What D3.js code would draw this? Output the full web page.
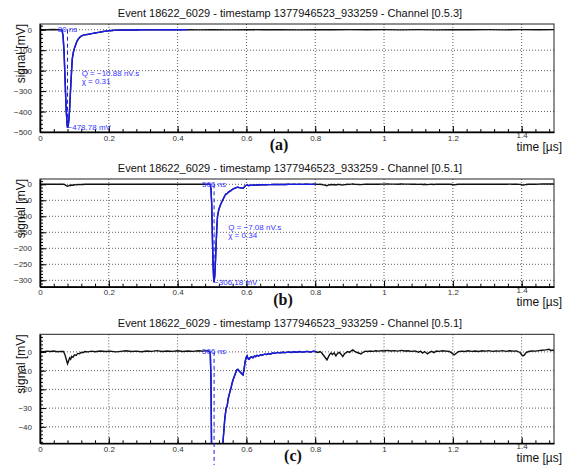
<!DOCTYPE html>
<html>
<head>
<meta charset="utf-8">
<script src="https://cdn.jsdelivr.net/npm/d3@7"></script>
<style>
  html, body { margin: 0; padding: 0; background: #fff; overflow: hidden; }
  svg { display: block; font-family: "Liberation Sans", Arial, sans-serif; }
</style>
</head>
<body>
<svg id="chart" width="563" height="465"></svg>
<script>
// ---- data (time in µs, signal in mV) ----
var eventTitle = "Event 18622_6029 - timestamp 1377946523_933259 - Channel ";
var channels = ["[0.5.3]", "[0.5.1]", "[0.5.1]"];
var panelLetters = ["(a)", "(b)", "(c)"];

var xTicks = [0, 0.2, 0.4, 0.6, 0.8, 1, 1.2, 1.4];
var yTicksA = [0, -100, -200, -300, -400, -500];
var yTicksB = [0, -50, -100, -150, -200, -250, -300];
var yTicksC = [0, -10, -20, -30, -40];

// channel [0.5.3]
var ch053Time = [0, 0.02, 0.04, 0.05, 0.058, 0.064, 0.067, 0.07, 0.073, 0.076, 0.079, 0.08, 0.082, 0.084,
  0.086, 0.088, 0.09, 0.092, 0.094, 0.097, 0.1, 0.104, 0.107, 0.112, 0.117, 0.122, 0.13, 0.141, 0.15,
  0.16, 0.17, 0.18, 0.19, 0.2, 0.21, 0.22, 0.24, 0.26, 0.28, 0.3, 0.33, 0.36, 0.4, 0.43, 0.46, 0.5,
  0.55, 0.6, 0.65, 0.7, 0.75, 0.8, 0.85, 0.9, 0.95, 1, 1.05, 1.1, 1.15, 1.2, 1.25, 1.3, 1.35, 1.4,
  1.45, 1.494];
var ch053Signal = [0.6, -0.4, 0.8, -0.3, 0.5, -2, -30, -110, -250, -390, -465, -478.78, -470, -440,
  -392, -320, -254, -195, -140, -110, -91, -72, -58, -44, -35, -29, -25, -22, -19,
  -16, -13, -10, -7, -5, -3.5, -2, -1.5, -0.5, -1.2, 0.3, -0.6, 0.2, -0.4, 0.5, -0.8, 0.4,
  -0.5, 0.7, -0.3, 0.5, -0.9, 0.2, -0.4, 0.6, -0.2, 0.4, -0.7, 0.3, -0.5, 0.6, -0.2, 0.5, -0.6, 0.3,
  -0.4, 0.5];

// channel [0.5.1]
var ch051Time = [0, 0.01, 0.02, 0.03, 0.04, 0.05, 0.06, 0.068, 0.072, 0.076, 0.08, 0.083, 0.086, 0.089,
  0.092, 0.096, 0.1, 0.105, 0.11, 0.115, 0.12, 0.125, 0.13, 0.14, 0.15, 0.16, 0.175, 0.19, 0.205,
  0.22, 0.235, 0.25, 0.265, 0.28, 0.295, 0.31, 0.325, 0.34, 0.355, 0.37, 0.385, 0.4, 0.415, 0.43,
  0.445, 0.46, 0.475, 0.485, 0.492, 0.495, 0.497, 0.499, 0.501, 0.503, 0.505, 0.506, 0.508, 0.51,
  0.512, 0.514, 0.516, 0.519, 0.522, 0.525, 0.528, 0.531, 0.534, 0.537, 0.541, 0.544, 0.547, 0.551,
  0.555, 0.558, 0.561, 0.565, 0.569, 0.572, 0.575, 0.579, 0.583, 0.587, 0.59, 0.593, 0.596, 0.599,
  0.602, 0.605, 0.608, 0.611, 0.615, 0.619, 0.623, 0.627, 0.631, 0.636, 0.641, 0.646, 0.652, 0.658,
  0.664, 0.67, 0.677, 0.684, 0.691, 0.698, 0.706, 0.714, 0.722, 0.73, 0.738, 0.746, 0.754, 0.762,
  0.77, 0.778, 0.786, 0.794, 0.802, 0.808, 0.814, 0.819, 0.824, 0.829, 0.834, 0.838, 0.842, 0.846,
  0.85, 0.855, 0.86, 0.865, 0.87, 0.875, 0.88, 0.885, 0.89, 0.895, 0.9, 0.905, 0.909, 0.914, 0.92,
  0.926, 0.933, 0.939, 0.946, 0.953, 0.96, 0.968, 0.976, 0.984, 0.992, 1, 1.01, 1.02, 1.03, 1.04,
  1.05, 1.06, 1.07, 1.08, 1.09, 1.1, 1.106, 1.112, 1.118, 1.126, 1.132, 1.138, 1.145, 1.152, 1.16,
  1.17, 1.18, 1.19, 1.198, 1.204, 1.21, 1.216, 1.225, 1.235, 1.245, 1.255, 1.265, 1.275, 1.285,
  1.295, 1.305, 1.315, 1.325, 1.335, 1.345, 1.355, 1.365, 1.375, 1.385, 1.395, 1.4, 1.404, 1.408,
  1.413, 1.42, 1.43, 1.44, 1.45, 1.46, 1.47, 1.479, 1.486, 1.494];
var ch051Signal = [0.3, 0.1, 0.4, 0.2, 0.5, 0.1, 0.3, 0.2, -1.2, -3.8, -6.3, -4.8, -3.2, -3.9,
  -2.4, -2.9, -1.6, -1.9, -0.8, -1.0, -0.2, -0.5, 0.2, 0.0, 0.4, 0.1, 0.5, 0.2, 0.4,
  0.0, 0.3, 0.6, 0.2, 0.4, 0.1, 0.5, 0.3, 0.7, 0.2, 0.5, 0.3, 0.6, 0.2, 0.5,
  0.3, 0.6, 0.4, 0.7, 0.3, -0.8, -15, -60, -160, -250, -300, -306.18, -285, -240,
  -185, -135, -100, -82, -72, -63, -56, -50, -43, -36, -30, -29, -25, -22,
  -19.5, -17, -15, -13, -11, -9.5, -9.3, -10.2, -11.0, -11.8, -12.3, -9.5, -5.5, -3.0,
  -2.1, -3.6, -3.9, -3.0, -2.6, -3.1, -2.2, -2.5, -1.8, -2.2, -1.5, -1.8, -1.2, -1.4,
  -0.9, -1.1, -0.6, -0.8, -0.3, -0.5, -0.2, -0.4, 0.0, -0.3, 0.1, -0.2, 0.2, -0.1,
  0.1, 0.3, -0.2, 0.4, 0.1, -0.3, 0.2, -0.6, -1.8, -3.0, -4.3, -2.8, -1.3, -0.6,
  -1.4, -0.5, -2.1, -0.8, -0.3, -1.2, -2.5, -1.0, -0.4, 0.2, -0.3, 0.6, 1.1, 0.4, -0.2,
  -0.6, -1.1, -0.2, 0.4, 0.2, 0.5, 0.3, 0.6, 0.4, 0.7, 0.5, 0.8, 0.5, 0.7, 0.4,
  0.8, 0.5, 0.6, 0.3, 0.5, -0.2, 0.4, -0.6, 0.2, -1.1, -0.3, 0.3, -0.4, 0.5, 0.3,
  0.6, 0.4, 0.2, -0.8, -1.6, -0.7, 0.1, 0.4, 0.2, 0.6, 0.3, 0.5, 0.2, 0.6,
  0.4, 0.7, 0.3, 0.5, 0.4, 0.7, 0.3, 0.6, 0.4, 0.5, -0.3, -1.5, -2.1, -1.6,
  -0.4, 0.2, 0.5, 0.4, 0.7, 0.9, 1.1, 1.4, 0.8, 1.0];

// pulse fit results
var peakTimes = [0.080, 0.506];      // µs
var peakAmps = [-478.78, -306.18];   // mV
var charges = [-10.88, -7.08];       // nV.s
var chiValues = [0.31, 0.34];
var fitWindows = [[0.055, 0.43], [0.48, 0.807]];

// ---- layout ----
var svg = d3.select("#chart");
var H = 465;
var blue = "#1a1aee";
var x = d3.scaleLinear().domain([0, 1.494]).range([40, 554]);

var panels = [
  { key: "a", ch: 0, top: 24, bottom: 132, yDomain: [-500, 28], yTicks: yTicksA, minor: 20, labelX: 279 },
  { key: "b", ch: 1, top: 179, bottom: 286.7, yDomain: [-320, 16.6], yTicks: yTicksB, minor: 10, labelX: 283 },
  { key: "c", ch: 1, top: 334.3, bottom: 443.3, yDomain: [-48.8, 9.4], yTicks: yTicksC, minor: 2, labelX: 293 }
];

function drawPanel(p, i) {
  var times = p.ch === 0 ? ch053Time : ch051Time;
  var values = p.ch === 0 ? ch053Signal : ch051Signal;
  var data = times.map(function(t, k) {
    return { t: t, v: values[k] };
  });
  var win = fitWindows[p.ch];
  var y = d3.scaleLinear().domain(p.yDomain).range([p.bottom, p.top]);
  var g = svg.append("g").attr("class", "panel-" + p.key);

  svg.append("clipPath").attr("id", "clip-" + p.key)
    .append("rect")
    .attr("x", x.range()[0]).attr("y", p.top)
    .attr("width", x.range()[1] - x.range()[0])
    .attr("height", p.bottom - p.top);

  // title
  g.append("text")
    .attr("x", 290).attr("y", p.top - 7)
    .attr("text-anchor", "middle")
    .attr("font-size", 11)
    .attr("fill", "#111")
    .text(eventTitle + channels[i]);

  // dotted grid
  g.selectAll(".vgrid").data(xTicks.filter(function(d) { return d > 0; }))
    .enter().append("line")
    .attr("x1", function(d) { return x(d); }).attr("x2", function(d) { return x(d); })
    .attr("y1", p.top).attr("y2", p.bottom)
    .attr("stroke", "#333").attr("stroke-width", 0.8).attr("stroke-dasharray", "1,2");
  g.selectAll(".hgrid").data(p.yTicks.filter(function(d) { return y(d) < p.bottom - 1; }))
    .enter().append("line")
    .attr("x1", x.range()[0]).attr("x2", x.range()[1])
    .attr("y1", function(d) { return y(d); }).attr("y2", function(d) { return y(d); })
    .attr("stroke", "#333").attr("stroke-width", 0.8).attr("stroke-dasharray", "1,2");

  // traces
  var line = d3.line()
    .x(function(d) { return x(d.t); })
    .y(function(d) { return y(d.v); });
  g.append("path").datum(data)
    .attr("clip-path", "url(#clip-" + p.key + ")")
    .attr("d", line)
    .attr("fill", "none").attr("stroke", "#111").attr("stroke-width", 1.4);
  g.append("path").datum(data.filter(function(d) { return d.t >= win[0] && d.t <= win[1]; }))
    .attr("clip-path", "url(#clip-" + p.key + ")")
    .attr("d", line)
    .attr("fill", "none").attr("stroke", blue).attr("stroke-width", 1.4);

  // frame
  g.append("rect")
    .attr("x", x.range()[0]).attr("y", p.top)
    .attr("width", x.range()[1] - x.range()[0])
    .attr("height", p.bottom - p.top)
    .attr("fill", "none").attr("stroke", "#222").attr("stroke-width", 1);

  // axes with inward ticks
  var yMinor = d3.range(Math.ceil(p.yDomain[0] / p.minor) * p.minor, p.yDomain[1], p.minor);
  g.append("g").attr("transform", "translate(" + x.range()[0] + ",0)")
    .call(d3.axisLeft(y).tickValues(yMinor).tickSize(-3).tickSizeOuter(0).tickFormat(""))
    .call(function(a) { a.select(".domain").remove(); });
  var ya = g.append("g").attr("transform", "translate(" + x.range()[0] + ",0)")
    .call(d3.axisLeft(y).tickValues(p.yTicks).tickSize(-6).tickSizeOuter(0).tickPadding(8));
  ya.select(".domain").attr("stroke-width", 1.6);
  ya.selectAll("text").attr("font-size", 8).attr("fill", "#333").attr("font-family", "Liberation Sans, Arial, sans-serif");

  var xMinor = d3.range(0, 1.494, 0.04);
  g.append("g").attr("transform", "translate(0," + p.bottom + ")")
    .call(d3.axisBottom(x).tickValues(xMinor).tickSize(-3).tickSizeOuter(0).tickFormat(""))
    .call(function(a) { a.select(".domain").remove(); });
  var xa = g.append("g").attr("transform", "translate(0," + p.bottom + ")")
    .call(d3.axisBottom(x).tickValues(xTicks).tickSize(-6).tickSizeOuter(0).tickPadding(3)
      .tickFormat(d3.format("~g")));
  xa.select(".domain").attr("stroke-width", 1.6);
  xa.selectAll("text").attr("font-size", 8).attr("fill", "#333").attr("font-family", "Liberation Sans, Arial, sans-serif");
  // the last label sits a little higher, above the axis title
  xa.selectAll(".tick").filter(function(d) { return d === 1.4; }).select("text").attr("y", 0.5);

  // axis titles
  g.append("text")
    .attr("transform", "translate(25," + p.top + ") rotate(-90)")
    .attr("text-anchor", "end")
    .attr("font-size", 12)
    .attr("fill", "#111")
    .text("signal [mV]");
  g.append("text")
    .attr("x", 562).attr("y", p.bottom + 19)
    .attr("text-anchor", "end")
    .attr("font-size", 12)
    .attr("fill", "#111")
    .text("time [µs]");

  // pulse annotations (not clipped, like the original)
  var tp = peakTimes[p.ch], vp = peakAmps[p.ch];
  g.append("line")
    .attr("x1", x(tp)).attr("x2", x(tp))
    .attr("y1", y(0)).attr("y2", y(vp))
    .attr("stroke", blue).attr("stroke-width", 1).attr("stroke-dasharray", "4,3");
  var ann = g.append("g").attr("font-size", 8).attr("fill", "#3535ff");
  var labels = [
    { x: x(tp), y: y(0) + 2.5, anchor: "middle", text: Math.round(tp * 1000) + " ns" },
    { x: x(tp), y: y(vp) + 2.5, anchor: "start", text: d3.format(".2f")(vp) + " mV" },
    { x: x(tp + 0.041), y: y(vp * 0.47), anchor: "start", text: "Q = " + d3.format(".2f")(charges[p.ch]) + " nV.s" },
    { x: x(tp + 0.041), y: y(vp * 0.47) + 8, anchor: "start", text: "χ = " + d3.format(".2f")(chiValues[p.ch]) }
  ];
  ann.selectAll("text").data(labels.filter(function(d) { return d.y < H; }))
    .enter().append("text")
    .attr("x", function(d) { return d.x; })
    .attr("y", function(d) { return d.y; })
    .attr("text-anchor", function(d) { return d.anchor; })
    .text(function(d) { return d.text; });

  // panel letter
  g.append("text")
    .attr("x", p.labelX).attr("y", p.bottom + 18)
    .attr("text-anchor", "middle")
    .attr("font-family", "Liberation Serif, DejaVu Serif, serif")
    .attr("font-weight", "bold")
    .attr("font-size", 16)
    .attr("fill", "#111")
    .text(panelLetters[i]);
}

panels.forEach(drawPanel);
</script>
</body>
</html>
